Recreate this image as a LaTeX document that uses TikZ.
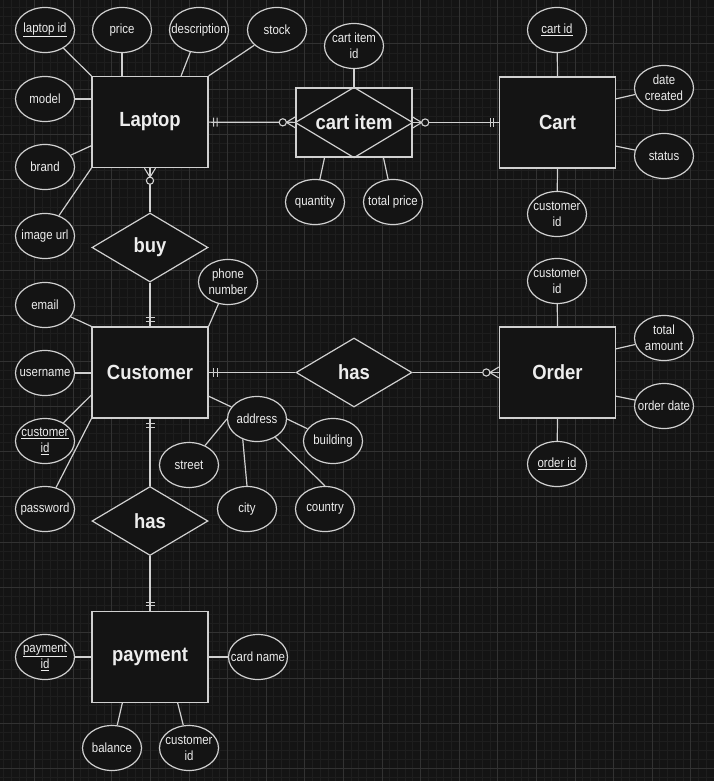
\documentclass[tikz,border=0pt]{standalone}
\usepackage{fontspec}
\setmainfont{Liberation Sans}
\newfontfamily\attrfont{Liberation Sans}[FakeStretch=0.86]
\newfontfamily\entityfont{Liberation Sans}[FakeStretch=0.9]
\usetikzlibrary{shapes.geometric,decorations.markings}

\definecolor{canvas}{HTML}{141414}
\definecolor{gridmajor}{HTML}{323232}
\definecolor{gridminor}{HTML}{1E1E1E}
\definecolor{ink}{HTML}{D0D0D0}
\definecolor{label}{HTML}{EDEDED}

\begin{document}
\begin{tikzpicture}[
            x = 1pt, y = -1pt, % pixel units, y downwards
            link/.style = {draw = ink, line width = 1.2pt},
            tick/.style = {draw = ink, line width = 1.1pt},
            % exactly one, at the end / start of a connector
            one end/.style = {postaction = {decorate, decoration = {markings,
                mark = at position -5pt with {\draw[tick] (0pt,-4.5pt) -- (0pt,4.5pt);},
                mark = at position -8.5pt with {\draw[tick] (0pt,-4.5pt) -- (0pt,4.5pt);}}}},
            one start/.style = {postaction = {decorate, decoration = {markings,
                mark = at position 5pt with {\draw[tick] (0pt,-4.5pt) -- (0pt,4.5pt);},
                mark = at position 8.5pt with {\draw[tick] (0pt,-4.5pt) -- (0pt,4.5pt);}}}},
            % zero or many, at the end / start of a connector
            many end/.style = {postaction = {decorate, decoration = {markings,
                mark = at position -0.1pt with {
                    \draw[tick] (0pt,-5.5pt) -- (-9pt,0pt) -- (0pt,5.5pt);
                    \draw[tick, fill = canvas] (-12.5pt,0pt) circle (3.6pt);}}}},
            many start/.style = {postaction = {decorate, decoration = {markings,
                mark = at position 0.1pt with {
                    \draw[tick] (0pt,-5.5pt) -- (9pt,0pt) -- (0pt,5.5pt);
                    \draw[tick, fill = canvas] (12.5pt,0pt) circle (3.6pt);}}}}
        ]

        \tikzstyle{entity}=[
            draw = ink,
            line width = 1.2pt,
            fill = canvas,
            text = label,
            minimum width = 116pt,
            minimum height = 91pt,
            font = \entityfont\bfseries\fontsize{20.5}{24}\selectfont
        ]
        \tikzstyle{relation}=[
            diamond,
            draw = ink,
            line width = 1.2pt,
            fill = canvas,
            text = label,
            inner sep = 0pt,
            minimum width = 116pt,
            minimum height = 69pt,
            font = \entityfont\bfseries\fontsize{20.5}{24}\selectfont
        ]
        \tikzstyle{attr}=[
            ellipse,
            draw = ink,
            line width = 1.2pt,
            fill = canvas,
            text = label,
            align = center,
            inner xsep = -20pt,
            inner ysep = -10pt,
            minimum width = 59pt,
            minimum height = 45pt,
            font = \attrfont\fontsize{13.3}{16}\selectfont
        ]

        \useasboundingbox (0,0) rectangle (714,781);
        \fill[canvas] (0,0) rectangle (714,781);
        \foreach \gx in {-4.2,3.52,...,714} \draw[gridminor, line width = 0.5pt] (\gx,0) -- (\gx,781);
        \foreach \gy in {-1.6,7.46,...,781} \draw[gridminor, line width = 0.5pt] (0,\gy) -- (714,\gy);
        \foreach \gx in {-4.2,34.4,...,714} \draw[gridmajor, line width = 0.6pt] (\gx,0) -- (\gx,781);
        \foreach \gy in {-1.6,43.7,...,781} \draw[gridmajor, line width = 0.6pt] (0,\gy) -- (714,\gy);

        % entities and relationships
        \node[entity] (laptop) at (150,122) {Laptop};
        \node[entity, minimum height = 69pt] (ci) at (354,122.5) {cart item};
        \node[entity] (cart) at (557.5,122.5) {Cart};
        \node[relation] (buy) at (150,247.5) {buy};
        \node[entity] (customer) at (150,372.5) {Customer};
        \node[relation] (has1) at (354,372.5) {has};
        \node[entity] (order) at (557.5,372.5) {Order};
        \node[relation] (has2) at (150,521) {has};
        \node[entity] (payment) at (150,657) {payment};
        \draw[link] (ci.north) -- (ci.east) -- (ci.south) -- (ci.west) -- cycle;

        % attributes
        \node[attr] (lid) at (45,30) {\underline{laptop id}};
        \node[attr] (price) at (122,30) {price};
        \node[attr] (desc) at (199,30) {description};
        \node[attr] (stock) at (277,30) {stock};
        \node[attr] (model) at (45,99) {model};
        \node[attr] (brand) at (45,167) {brand};
        \node[attr] (imgurl) at (45,236) {image url};

        \node[attr] (ciid) at (354,46) {cart item\\id};
        \node[attr] (qty) at (315,202) {quantity};
        \node[attr] (tprice) at (393,202) {total price};

        \node[attr] (cartid) at (557,30) {\underline{cart id}};
        \node[attr] (created) at (664,88) {date\\created};
        \node[attr] (status) at (664,156) {status};
        \node[attr] (cartcust) at (557,214) {customer\\id};

        \node[attr] (email) at (45,305) {email};
        \node[attr] (phone) at (228,282) {phone\\number};
        \node[attr] (username) at (45,373) {username};
        \node[attr] (custid) at (45,441) {\underline{customer}\\\underline{id}};
        \node[attr] (password) at (45,509) {password};
        \node[attr] (address) at (257,419) {address};
        \node[attr] (building) at (333,441) {building};
        \node[attr] (street) at (189,465) {street};
        \node[attr] (city) at (247,509) {city};
        \node[attr] (country) at (325,509) {country};

        \node[attr] (ordcust) at (557,281) {customer\\id};
        \node[attr] (total) at (664,338) {total\\amount};
        \node[attr] (odate) at (664,406) {order date};
        \node[attr] (oid) at (557,464) {\underline{order id}};

        \node[attr] (pid) at (45,657) {\underline{payment}\\\underline{id}};
        \node[attr] (cardname) at (258,657) {card name};
        \node[attr] (balance) at (112,748) {balance};
        \node[attr] (paycust) at (189,748) {customer\\id};

        % relationship lines
        \draw[link, one start, many end] (laptop) -- (ci);
        \draw[link, many start, one end] (ci) -- (cart);
        \draw[link, many end] (buy) -- (laptop);
        \draw[link, one end] (buy) -- (customer);
        \draw[link, one end] (has1) -- (customer);
        \draw[link, many end] (has1) -- (order);
        \draw[link, one end] (has2) -- (customer);
        \draw[link, one end] (has2) -- (payment);

        % attribute lines
        \draw[link] (lid) -- (laptop.north west);
        \draw[link] (price) -- (price |- laptop.north);
        \draw[link] (desc) -- (laptop.56);
        \draw[link] (stock) -- (laptop.north east);
        \draw[link] (model) -- (model -| laptop.west);
        \draw[link] (brand) -- (laptop.202);
        \draw[link] (imgurl) -- (laptop.south west);

        \draw[link] (ciid) -- (ci.north);
        \draw[link] (qty) -- (ci.230);
        \draw[link] (tprice) -- (ci.310);

        \draw[link] (cartid) -- (cart.north);
        \draw[link] (created) -- (cart.22);
        \draw[link] (status) -- (cart.338);
        \draw[link] (cartcust) -- (cart.south);

        \draw[link] (email) -- (customer.north west);
        \draw[link] (phone) -- (customer.north east);
        \draw[link] (username) -- (username -| customer.west);
        \draw[link] (custid) -- (customer.201);
        \draw[link] (password) -- (customer.south west);
        \draw[link] (address) -- (customer.338);
        \draw[link] (address.east) -- (building);
        \draw[link] (address.west) -- (street);
        \draw[link] (address.235) -- (city.north);
        \draw[link] (address.315) -- (country.north);

        \draw[link] (ordcust) -- (order.north);
        \draw[link] (total) -- (order.22);
        \draw[link] (odate) -- (order.338);
        \draw[link] (oid) -- (order.south);

        \draw[link] (pid) -- (payment.west);
        \draw[link] (cardname) -- (payment.east);
        \draw[link] (balance) -- (payment.239);
        \draw[link] (paycust) -- (payment.301);

    \end{tikzpicture}
\end{document}
